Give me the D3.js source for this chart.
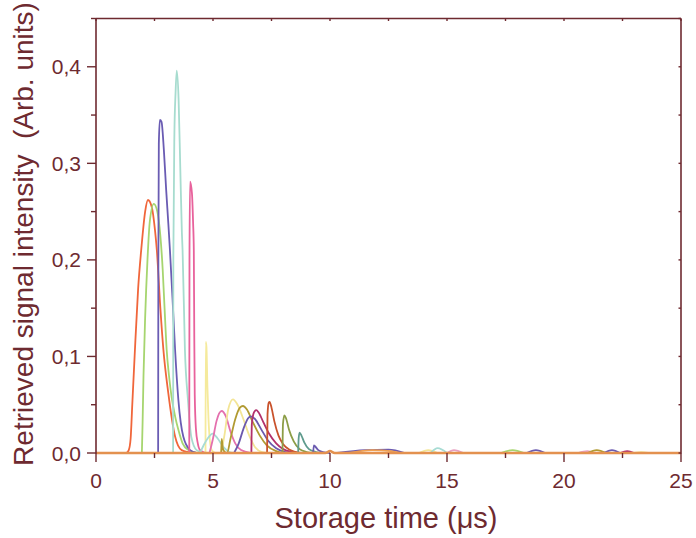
<!DOCTYPE html>
<html>
<head>
<meta charset="utf-8">
<script src="https://cdn.jsdelivr.net/npm/d3@7"></script>
<style>
  html, body { margin: 0; padding: 0; background: #fff; }
  svg { display: block; }
  text { font-family: "Liberation Sans", Arial, sans-serif; fill: #6e2a30; }
</style>
</head>
<body>
<svg id="chart" width="696" height="538"></svg>
<script>
// ---- Data (storage time in µs, retrieved intensity in arb. units) ----
const xTicks = [0, 5, 10, 15, 20, 25];
const yTicks = [0.0, 0.1, 0.2, 0.3, 0.4];
const xTickLabels = ["0", "5", "10", "15", "20", "25"];
const yTickLabels = ["0,0", "0,1", "0,2", "0,3", "0,4"];

const seriesNames = ["s1","s2","s3","s4","s5","s6","s7","s8","s9","s10","s11","s12","s13","s14","s15","s16",
  "t1","t2","t3","t4","t5","t6","t7","t8","t9","t10","t11","t12","base"];
const seriesColors = ["#f0663b","#a6d56f","#6a5cb3","#a7dccf","#e8629c","#f5ea9c","#a8dcd4","#e470ae",
  "#f3e596","#b19a32","#6b59ad","#b2306c","#c9522c","#8c9d46","#5f9b8d","#6b5bb0",
  "#6b5bb0","#f0a050","#f3e596","#a8dcd4","#e8a0c0","#a6d56f","#6b5bb0","#e8a0c0","#b19a32","#6b5bb0","#b2306c","#f3e596",
  "#e3914f"];

const s1 = [[1.30,0],[1.40,0.003],[1.48,0.015],[1.55,0.05],[1.65,0.10],[1.80,0.17],[1.95,0.215],[2.10,0.25],[2.22,0.262],[2.38,0.255],[2.52,0.231],[2.60,0.21],[2.75,0.15],[2.88,0.107],[3.09,0.062],[3.38,0.017],[3.66,0.003],[4.2,0]];
const s2 = [[1.96,0],[1.99,0.03],[2.03,0.08],[2.10,0.14],[2.20,0.20],[2.30,0.24],[2.47,0.258],[2.62,0.25],[2.75,0.225],[2.85,0.19],[2.93,0.15],[3.02,0.107],[3.12,0.08],[3.23,0.058],[3.38,0.038],[3.52,0.024],[3.70,0.010],[3.95,0.003],[4.3,0]];
const s3 = [[2.655,0],[2.665,0.20],[2.685,0.32],[2.73,0.345],[2.80,0.343],[2.90,0.314],[3.00,0.272],[3.09,0.238],[3.16,0.21],[3.27,0.16],[3.38,0.107],[3.52,0.055],[3.73,0.017],[4.02,0.003],[4.3,0]];
const s4 = [[3.295,0],[3.305,0.20],[3.35,0.33],[3.40,0.373],[3.45,0.396],[3.53,0.366],[3.60,0.297],[3.67,0.228],[3.70,0.21],[3.80,0.107],[3.93,0.055],[4.07,0.017],[4.30,0.003],[4.6,0]];
const s5 = [[3.985,0],[3.995,0.20],[4.02,0.281],[4.10,0.269],[4.15,0.238],[4.18,0.21],[4.20,0.12],[4.22,0.06],[4.27,0.025],[4.35,0.010],[4.45,0.003],[4.7,0]];
const s6 = [[4.68,0],[4.69,0.115],[4.72,0.11],[4.76,0.07],[4.80,0.04],[4.87,0.012],[4.95,0.003],[5.1,0]];
const s7 = [[4.45,0],[4.60,0.008],[4.80,0.016],[4.98,0.02],[5.20,0.015],[5.45,0.006],[5.70,0.001],[5.9,0]];
const s8 = [[4.85,0],[5.00,0.015],[5.15,0.033],[5.37,0.0435],[5.55,0.038],[5.75,0.022],[5.95,0.010],[6.20,0.003],[6.6,0]];
const s9 = [[5.35,0],[5.50,0.02],[5.65,0.045],[5.85,0.0556],[6.05,0.05],[6.30,0.035],[6.55,0.018],[6.80,0.006],[7.10,0.001],[7.4,0]];
const s10 = [[5.35,0],[5.37,0.0145],[5.42,0.005],[5.50,0.001],[5.60,0],[5.75,0.015],[5.95,0.035],[6.15,0.047],[6.28,0.0487],[6.45,0.045],[6.70,0.032],[7.00,0.018],[7.30,0.008],[7.70,0.002],[8.0,0]];
const s11 = [[5.90,0],[6.10,0.010],[6.30,0.025],[6.50,0.036],[6.62,0.038],[6.80,0.035],[7.05,0.025],[7.35,0.013],[7.70,0.005],[8.10,0.001],[8.4,0]];
const s12 = [[6.64,0],[6.66,0.03],[6.75,0.042],[6.85,0.0445],[6.95,0.042],[7.15,0.032],[7.40,0.020],[7.70,0.010],[8.00,0.004],[8.40,0.001],[8.8,0]];
const s13 = [[7.31,0],[7.33,0.04],[7.38,0.052],[7.42,0.053],[7.50,0.047],[7.62,0.033],[7.80,0.018],[8.00,0.009],[8.30,0.003],[8.7,0]];
const s14 = [[7.97,0],[7.99,0.03],[8.05,0.039],[8.12,0.036],[8.25,0.024],[8.45,0.012],[8.70,0.004],[9.00,0.001],[9.3,0]];
const s15 = [[8.64,0],[8.66,0.015],[8.70,0.021],[8.78,0.018],[8.90,0.011],[9.10,0.004],[9.40,0.001],[9.7,0]];
const s16 = [[9.28,0],[9.31,0.008],[9.36,0.007],[9.50,0.003],[9.70,0.001],[10.0,0]];
const t1 = [[10.3,0],[11.5,0.003],[12.5,0.0035],[13.2,0]];
const t2 = [[10.8,0],[11.8,0.003],[12.6,0.002],[13.0,0]];
const t3 = [[13.8,0],[14.2,0.003],[14.6,0]];
const t4 = [[14.3,0],[14.6,0.005],[15.0,0]];
const t5 = [[15.0,0],[15.3,0.003],[15.7,0]];
const t6 = [[17.3,0],[17.8,0.003],[18.3,0]];
const t7 = [[18.4,0],[18.8,0.003],[19.2,0]];
const t8 = [[20.6,0],[21.0,0.002],[21.3,0]];
const t9 = [[21.0,0],[21.4,0.003],[21.8,0]];
const t10 = [[21.7,0],[22.05,0.003],[22.4,0]];
const t11 = [[22.4,0],[22.7,0.002],[23.0,0]];
const t12 = [[23.0,0],[23.3,0.001],[23.6,0]];
const base = [[0,0],[9.8,0],[10.0,0.002],[10.2,0],[25,0]];

const seriesData = [s1,s2,s3,s4,s5,s6,s7,s8,s9,s10,s11,s12,s13,s14,s15,s16,t1,t2,t3,t4,t5,t6,t7,t8,t9,t10,t11,t12,base];

// ---- Layout ----
const W = 696, H = 538;
const m = { left: 96, right: 15, top: 18.5, bottom: 85 };
const axisColor = "#6e2a30";
const svg = d3.select("#chart");

const x = d3.scaleLinear().domain([0, 25]).range([m.left, W - m.right]);
const y = d3.scaleLinear().domain([0, 0.45]).range([H - m.bottom, m.top]);

// series
const line = d3.line().x(d => x(d[0])).y(d => y(d[1])).curve(d3.curveMonotoneX);
const g = svg.append("g");
seriesData.forEach((s, i) => {
  g.append("path").datum(s)
    .attr("d", line)
    .attr("fill", "none")
    .attr("stroke", seriesColors[i])
    .attr("stroke-width", seriesNames[i] === "base" ? 2.6 : 1.8)
    .attr("stroke-linejoin", "round");
});

// frame (top, right, left)
const frame = svg.append("g").attr("stroke", axisColor).attr("stroke-width", 1.6).attr("fill", "none");
frame.append("line").attr("x1", x(0)).attr("x2", x(25)).attr("y1", y(0.45)).attr("y2", y(0.45));
frame.append("line").attr("x1", x(25)).attr("x2", x(25)).attr("y1", y(0.45)).attr("y2", y(0) + 0.5);
frame.append("line").attr("x1", x(0)).attr("x2", x(0)).attr("y1", y(0.45)).attr("y2", y(0) + 0.5);

// left axis ticks
const yMinor = d3.range(0, 0.451, 0.05);
const ax = svg.append("g").attr("stroke", axisColor).attr("stroke-width", 1.4);
yMinor.forEach((v, i) => {
  const major = i % 2 === 0 && v < 0.44;
  ax.append("line").attr("x1", x(0) - (major ? 9 : 5)).attr("x2", x(0))
    .attr("y1", y(v)).attr("y2", y(v));
  ax.append("line").attr("x1", x(25) - 2.5).attr("x2", x(25))
    .attr("y1", y(v)).attr("y2", y(v));
});
const xMinor = d3.range(0, 25.01, 2.5);
xMinor.forEach((v, i) => {
  const major = i % 2 === 0;
  ax.append("line").attr("x1", x(v)).attr("x2", x(v))
    .attr("y1", y(0)).attr("y2", y(0) + (major ? 9 : 5));
  ax.append("line").attr("x1", x(v)).attr("x2", x(v))
    .attr("y1", y(0.45)).attr("y2", y(0.45) + 2.5);
});

// tick labels
yTicks.forEach((v, i) => {
  svg.append("text").attr("x", x(0) - 15).attr("y", y(v) + 7.5)
    .attr("text-anchor", "end").attr("font-size", 21).text(yTickLabels[i]);
});
xTicks.forEach((v, i) => {
  svg.append("text").attr("x", x(v)).attr("y", y(0) + 35)
    .attr("text-anchor", "middle").attr("font-size", 21).text(xTickLabels[i]);
});

// axis titles
svg.append("text").attr("x", 386).attr("y", 528)
  .attr("text-anchor", "middle").attr("font-size", 29).text("Storage time (μs)");
svg.append("text").attr("transform", "translate(33,234) rotate(-90)")
  .attr("text-anchor", "middle").attr("font-size", 28).attr("xml:space", "preserve")
  .style("white-space", "pre")
  .text("Retrieved signal intensity  (Arb. units)");
</script>
</body>
</html>
